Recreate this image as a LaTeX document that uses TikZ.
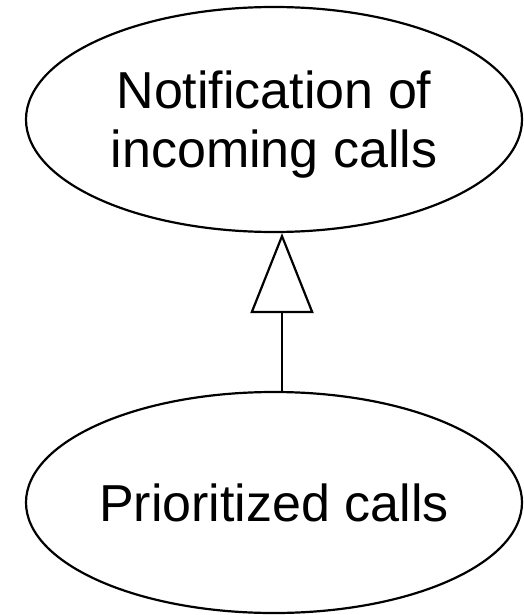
\documentclass[tikz,border=0pt]{standalone}
\usepackage{fontspec}
\setmainfont{Liberation Sans}
\usetikzlibrary{shapes.geometric,arrows.meta}

\tikzset{
  usecase/.style={ellipse, draw=black, line width=2.2pt, inner sep=0pt,
    minimum width=496pt, minimum height=225pt, align=center,
    font=\fontsize{52pt}{59pt}\selectfont},
  generalization/.style={line width=2.2pt,
    -{Triangle[open, length=80pt, width=63pt, line join=miter]}}
}

\begin{document}
\begin{tikzpicture}[x=1pt, y=-1pt]
  \useasboundingbox (0,0) rectangle (523,615);

  % use cases
  \node[usecase, text depth=0pt] (notify) at (274,119.5)
    {Notification of\\incoming calls};
  \node[usecase, minimum height=221pt] (prio) at (274,502.5)
    {Prioritized calls};

  % generalization: prioritized calls specialise the notification
  \coordinate (gx) at (282,0);
  \draw[generalization] (prio.north -| gx) -- (notify.south -| gx);
\end{tikzpicture}
\end{document}
